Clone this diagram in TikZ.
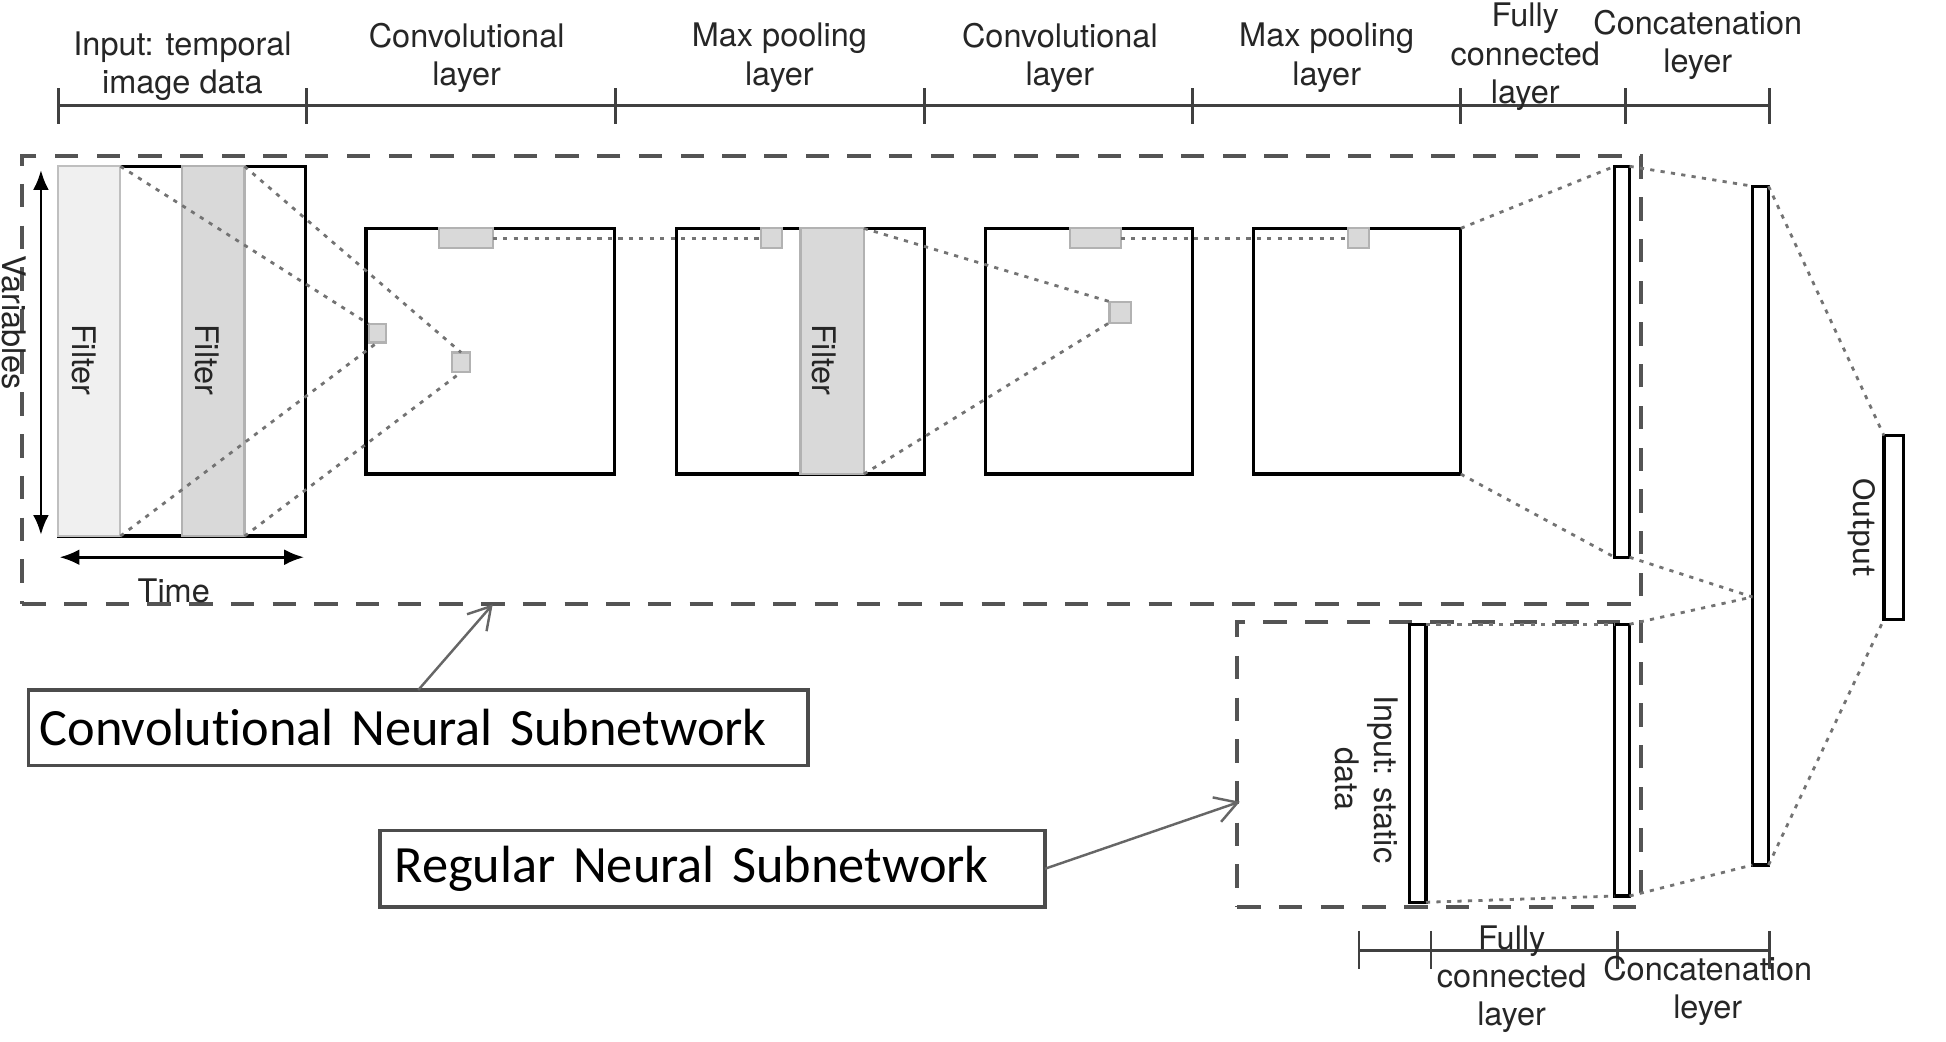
\documentclass[tikz,border=0pt]{standalone}
\usepackage{fontspec}
\setmainfont{TeX Gyre Heros}
\newfontfamily\calfont[Ligatures=NoCommon]{Carlito}
\usetikzlibrary{arrows.meta}
\newcommand\pxl{0.0125cm}
\begin{document}
\begin{tikzpicture}[x=0.0125cm, y=-0.0125cm,
  fmap/.style={draw=black, line width=1pt, fill=white, inner sep=0pt, outer sep=0pt},
  patch/.style={draw=black!30, fill=black!15, line width=0.6pt, inner sep=0pt, outer sep=0pt},
  lightstrip/.style={draw=black!25, fill=black!6, line width=0.6pt, inner sep=0pt, outer sep=0pt},
  bar/.style={draw=black, line width=0.9pt, fill=white, inner sep=0pt, outer sep=0pt},
  conn/.style={draw=black!55, line width=0.8pt, dash pattern=on 1.2pt off 1.8pt},
  group/.style={draw=black!67, line width=1.2pt, dash pattern=on 0.235cm off 0.185cm, inner sep=0pt, outer sep=0pt},
  lab/.style={font=\fontsize{9.3}{11}\selectfont, align=center, inner sep=0pt, text=black!85},
  vlab/.style={lab, rotate=-90},
  callout/.style={draw=black!70, line width=1pt, fill=white, font=\calfont\fontsize{15}{18}\selectfont, align=left, inner ysep=0pt, outer sep=0pt},
  pointer/.style={draw=black!60, line width=0.7pt, -{Straight Barb[length=2.2mm, width=2.6mm]}},
  scaleline/.style={draw=black!75, line width=0.8pt},
  dimarrow/.style={draw=black, line width=0.8pt, {Latex[length=2mm, width=1.6mm]}-{Latex[length=2mm, width=1.6mm]}}
]
\fill[white] (0,0) rectangle (1568,839);
\useasboundingbox (0,0) rectangle (1568,839);

% group frames
\node[group, minimum width=1304*\pxl, minimum height=361*\pxl] (cnnnet) at (670,306.5) {};
\node[group, minimum width=325*\pxl, minimum height=230*\pxl] (rnnnet) at (1159.5,616) {};
\coordinate (cnnhit) at (397,487);
\coordinate (rnnhit) at (999,646);

% top scale
\draw[scaleline] (47,85) -- (1426,85);
\foreach \x in {47,247,496,745,961,1177,1310,1426} \draw[scaleline] (\x,71) -- (\x,100);
\node[lab] (l1) at (147,53.5) {Input: temporal\\image data};
\node[lab] (l2) at (376,46.5) {Convolutional\\layer};
\node[lab] (l3) at (628,46.5) {Max pooling\\layer};
\node[lab] (l4) at (854,46.5) {Convolutional\\layer};
\node[lab] (l5) at (1069,46.5) {Max pooling\\layer};
\node[lab] (l6) at (1229,46) {Fully\\connected\\layer};
\node[lab] (l7) at (1368,36) {Concatenation\\leyer};

% bottom scale
\draw[scaleline] (1095,766) -- (1426,766);
\foreach \x in {1095,1153,1303,1426} \draw[scaleline] (\x,750) -- (\x,781);
\node[lab] (l8) at (1218,789) {Fully\\connected\\layer};
\node[lab] (l9) at (1376,798.5) {Concatenation\\leyer};

% input image
\node[fmap, minimum width=199*\pxl, minimum height=298*\pxl] (img) at (146.5,283) {};
\node[lightstrip, minimum width=50*\pxl, minimum height=298*\pxl] (f1) at (72,283) {};
\node[patch, minimum width=50*\pxl, minimum height=298*\pxl] (f2) at (172,283) {};
\node[vlab] (f1t) at (68,290) {Filter};
\node[vlab] (f2t) at (167,290) {Filter};
\node[vlab] (vars) at (11,260) {Variables};
\node[lab] (time) at (140,476) {Time};
\coordinate (vtop) at (33,137);
\coordinate (vbot) at (33,431);
\coordinate (tl) at (48,449);
\coordinate (tr) at (245,449);
\draw[dimarrow] (vtop) -- (vbot);
\draw[dimarrow] (tl) -- (tr);

% convolutional layer 1
\node[fmap, minimum width=200*\pxl, minimum height=198*\pxl] (conv1) at (395,283) {};
\node[patch, minimum width=43*\pxl, minimum height=16*\pxl] (c1g) at (375.5,192) {};
\node[patch, minimum width=14*\pxl, minimum height=15*\pxl] (sq1) at (304,268.5) {};
\node[patch, minimum width=15*\pxl, minimum height=16*\pxl] (sq2) at (371.5,292) {};

% max pooling 1
\node[fmap, minimum width=200*\pxl, minimum height=198*\pxl] (pool1) at (645,283) {};
\node[patch, minimum width=17*\pxl, minimum height=16*\pxl] (p1g) at (621.5,192) {};
\node[patch, minimum width=51*\pxl, minimum height=198*\pxl] (p1s) at (670.5,283) {};
\node[vlab] (p1t) at (664,290) {Filter};

% convolutional layer 2
\node[fmap, minimum width=167*\pxl, minimum height=198*\pxl] (conv2) at (877.5,283) {};
\node[patch, minimum width=41*\pxl, minimum height=16*\pxl] (c2g) at (882.5,192) {};
\node[patch, minimum width=17*\pxl, minimum height=17*\pxl] (c2sq) at (902.5,251.5) {};

% max pooling 2
\node[fmap, minimum width=167*\pxl, minimum height=198*\pxl] (pool2) at (1093.5,283) {};
\node[patch, minimum width=17*\pxl, minimum height=16*\pxl] (p2g) at (1094.5,192) {};

% bars
\node[bar, minimum width=12*\pxl, minimum height=315*\pxl] (fc1) at (1307,291.5) {};
\node[bar, minimum width=13*\pxl, minimum height=547*\pxl] (concat) at (1418.5,423.5) {};
\node[bar, minimum width=16*\pxl, minimum height=148*\pxl] (out) at (1526,425) {};
\node[bar, minimum width=13*\pxl, minimum height=224*\pxl] (static) at (1142.5,615) {};
\node[bar, minimum width=12*\pxl, minimum height=219*\pxl] (fc2) at (1307,612.5) {};
\coordinate (cjoin) at (1412,481);
\node[font=\calfont\fontsize{9.7}{11}\selectfont, rotate=-90, inner sep=0pt, text=black!85] (outt) at (1500,425) {Output};
\node[vlab] (statt) at (1101,628) {Input: static\\data};

% dotted connectors
\draw[conn] (f1.north east) -- (sq1.north west);
\draw[conn] (f1.south east) -- (sq1.south);
\draw[conn] (f2.north east) -- (sq2.north);
\draw[conn] (f2.south east) -- (sq2.south);
\draw[conn] (c1g.east) -- (p1g.west);
\draw[conn] (p1s.north east) -- (c2sq.north west);
\draw[conn] (p1s.south east) -- (c2sq.south west);
\draw[conn] (c2g.east) -- (p2g.west);
\draw[conn] (pool2.north east) -- (fc1.north west);
\draw[conn] (pool2.south east) -- (fc1.south west);
\draw[conn] (fc1.north east) -- (concat.north west);
\draw[conn] (fc1.south east) -- (cjoin);
\draw[conn] (fc2.north east) -- (cjoin);
\draw[conn] (fc2.south east) -- (concat.south west);
\draw[conn] (concat.north east) -- (out.north west);
\draw[conn] (concat.south east) -- (out.south west);
\draw[conn] (static.north east) -- (fc2.north west);
\draw[conn] (static.south east) -- (fc2.south west);

% callouts
\node[callout, text width=610*\pxl, inner xsep=9*\pxl, minimum height=61*\pxl] (cnnlab) at (337,586.5) {Convolutional Neural Subnetwork};
\node[callout, text width=512*\pxl, inner xsep=12*\pxl, minimum height=62*\pxl] (rnnlab) at (574,700) {Regular Neural Subnetwork};
\draw[pointer] (cnnlab.north) -- (cnnhit);
\draw[pointer] (rnnlab.east) -- (rnnhit);
\end{tikzpicture}
\end{document}
